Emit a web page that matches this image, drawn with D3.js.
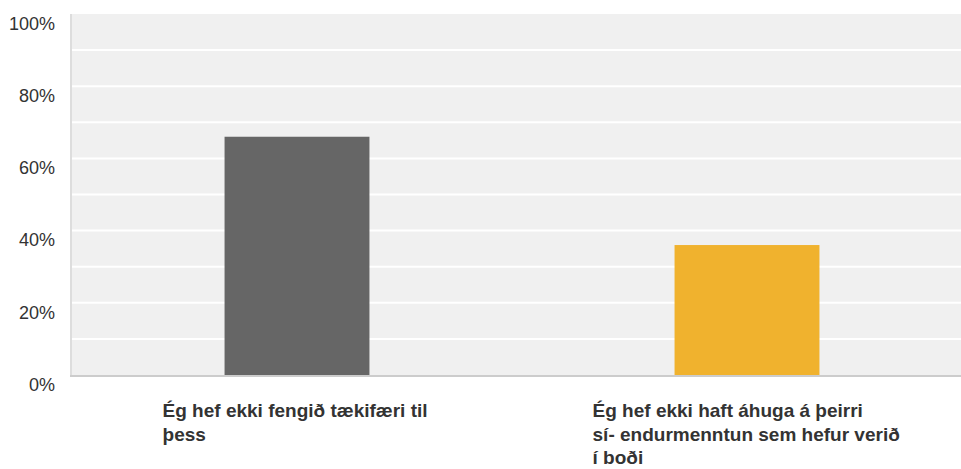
<!DOCTYPE html>
<html>
<head>
<meta charset="utf-8">
<script src="https://cdn.jsdelivr.net/npm/d3@7"></script>
<style>
body{margin:0;background:#fff;}
text{font-family:"Liberation Sans",Arial,sans-serif;fill:#333;}
</style>
</head>
<body>
<svg width="961" height="469"></svg>
<script>
var categories=["Ég hef ekki fengið tækifæri til þess","Ég hef ekki haft áhuga á þeirri sí- endurmenntun sem hefur verið í boði"];
var labelLines=[["Ég hef ekki fengið tækifæri til","þess"],["Ég hef ekki haft áhuga á þeirri","sí- endurmenntun sem hefur verið","í boði"]];
var values=[66,36];
var colors=["#666666","#f0b22e"];
var yTicks=[0,20,40,60,80,100];
var gridTicks=[10,20,30,40,50,60,70,80,90];

var svg=d3.select("svg");
var plotLeft=72, plotRight=972, plotTop=14, plotBottom=375;

var x=d3.scaleBand()
.domain(categories)
.range([plotLeft,plotRight])
.paddingInner(0.678)
.paddingOuter(0.339);

var y=d3.scaleLinear()
.domain([0,100])
.range([plotBottom,plotTop]);

svg.append("rect")
.attr("x",plotLeft).attr("y",plotTop)
.attr("width",plotRight-plotLeft).attr("height",plotBottom-plotTop)
.attr("fill","#f0f0f0");

svg.append("rect")
.attr("x",plotLeft-2).attr("y",plotTop)
.attr("width",2).attr("height",plotBottom-plotTop+1)
.attr("fill","#dddddd");

svg.selectAll(".grid")
.data(gridTicks)
.enter()
.append("line")
.attr("x1",plotLeft).attr("x2",plotRight)
.attr("y1",function(d){return y(d);})
.attr("y2",function(d){return y(d);})
.attr("stroke","#ffffff")
.attr("stroke-width",2);

svg.selectAll(".bar")
.data(values)
.enter()
.append("rect")
.attr("x",function(d,i){return x(categories[i]);})
.attr("y",function(d){return y(d);})
.attr("width",x.bandwidth())
.attr("height",function(d){return plotBottom-y(d);})
.attr("fill",function(d,i){return colors[i];});

svg.append("line")
.attr("x1",plotLeft-2).attr("x2",plotRight)
.attr("y1",plotBottom+1).attr("y2",plotBottom+1)
.attr("stroke","#cccccc")
.attr("stroke-width",2);

svg.selectAll(".ytick")
.data(yTicks)
.enter()
.append("text")
.attr("x",55)
.attr("y",function(d){return y(d)+11;})
.attr("text-anchor","end")
.attr("dominant-baseline","middle")
.style("font-size","18px")
.text(function(d){return d+"%";});

var labels=svg.selectAll(".xlabel")
.data(labelLines)
.enter()
.append("text")
.attr("x",function(d,i){return x(categories[i])-62-i*20;})
.attr("y",417)
.style("font-size","19px")
.style("font-weight","bold");

labels.selectAll("tspan")
.data(function(d){return d;})
.enter()
.append("tspan")
.attr("x",function(){return d3.select(this.parentNode).attr("x");})
.attr("dy",function(d,i){return i==0?0:23.5;})
.text(function(d){return d;});
</script>
</body>
</html>
